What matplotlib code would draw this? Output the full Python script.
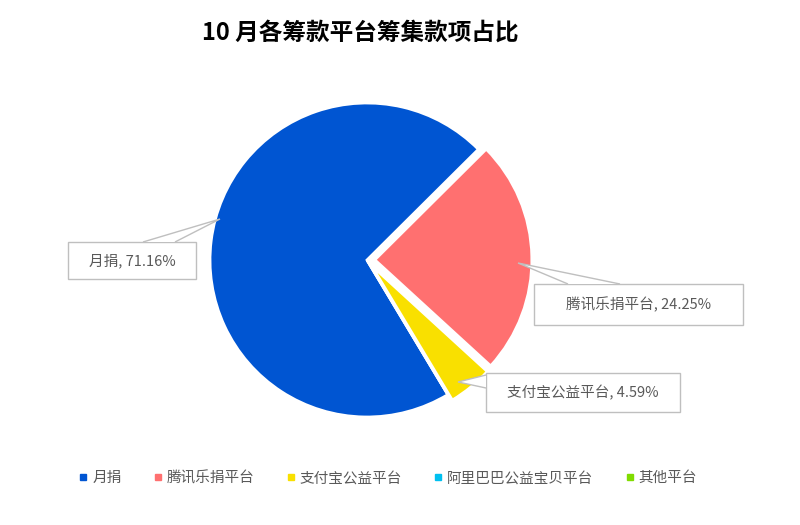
import matplotlib.pyplot as plt
from matplotlib.patches import Polygon
from matplotlib.lines import Line2D

plt.rcParams['font.family'] = ['Noto Sans CJK SC', 'DejaVu Sans']

H = 525  # figure height in px, used to flip y

labels  = ['月捐', '腾讯乐捐平台', '支付宝公益平台', '阿里巴巴公益宝贝平台', '其他平台']
values  = [71.16, 24.25, 4.59, 0.0, 0.0]
colors  = ['#0055D2', '#FF7070', '#F9E000', '#00C0F0', '#80DC00']
explode = [0.0, 0.05, 0.045, 0.0, 0.0]  # fraction of radius

# callout boxes (pixel coords): box x0, y0, x1, y1, tip, two base points
callouts = [
    dict(box=(68, 242, 196, 279), tip=(220, 219), base=[(143, 242), (175, 242)]),
    dict(box=(534, 284, 743, 325), tip=(518, 263), base=[(568, 284), (620, 284)]),
    dict(box=(486, 373, 680, 412), tip=(458, 382), base=[(486, 375), (486, 388)]),
]

fig = plt.figure(figsize=(8, 5.25), dpi=100)
ax = fig.add_axes([0, 0, 1, 1])

cx, cy, r = 367, H - 260, 157
ax.pie(values, colors=colors, explode=[e * r for e in explode], startangle=301,
       counterclock=False, center=(cx, cy), radius=r,
       wedgeprops=dict(edgecolor='white', linewidth=2))
ax.set_xlim(0, 800)
ax.set_ylim(0, H)
ax.set_aspect('equal')
ax.axis('off')

grey = '#BFBFBF'
for i, c in enumerate(callouts):
    x0, y0, x1, y1 = c['box']
    box = Polygon([(x0, H - y0), (x1, H - y0), (x1, H - y1), (x0, H - y1)],
                  closed=True, facecolor='white', edgecolor=grey, lw=1, zorder=5)
    ax.add_patch(box)
    (bx1, by1), (bx2, by2) = c['base']
    tx, ty = c['tip']
    ptr = Polygon([(bx1, H - by1), (tx, H - ty), (bx2, H - by2)], closed=False,
                  facecolor='white', edgecolor=grey, lw=1, zorder=6)
    ax.add_patch(ptr)
    ax.text((x0 + x1) / 2, H - (y0 + y1) / 2, f'{labels[i]}, {values[i]:.2f}%',
            ha='center', va='center', fontsize=10.5, color='#595959', zorder=7)

fig.text(0.45, 1 - 33 / H, '10 月各筹款平台筹集款项占比', ha='center', va='center',
         fontsize=17, fontweight='bold', color='black')

handles = [Line2D([], [], ls='none', marker='s', markersize=5, color=c) for c in colors]
fig.legend(handles, labels, loc='center', bbox_to_anchor=(0.485, 1 - 478 / H), ncol=5,
           frameon=False, fontsize=10.5, labelcolor='#595959', handlelength=0.6,
           handletextpad=0.3, columnspacing=2.2)

fig.savefig('out.png', dpi=100)
